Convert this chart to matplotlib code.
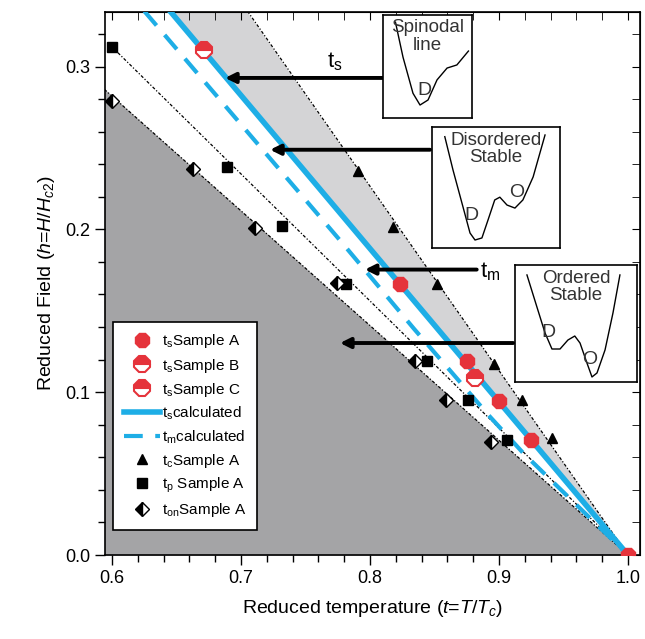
import numpy as np
import matplotlib
matplotlib.use('Agg')
import matplotlib.pyplot as plt

plt.rcParams['font.family'] = ['Liberation Sans', 'DejaVu Sans']
plt.rcParams['mathtext.fontset'] = 'custom'
plt.rcParams['mathtext.rm'] = 'Liberation Sans'
plt.rcParams['mathtext.it'] = 'Liberation Sans:italic'

# measured points (reduced temperature t, reduced field h)
ts_A_t = [0.823, 0.875, 0.900, 0.925, 1.0]
ts_A_h = [0.1667, 0.119, 0.0945, 0.0706, 0.0]
ts_B_t = [0.881]
ts_B_h = [0.109]
ts_C_t = [0.671]
ts_C_h = [0.310]
tc_t = [0.791, 0.818, 0.852, 0.896, 0.918, 0.941, 1.0]
tc_h = [0.236, 0.2014, 0.1667, 0.1176, 0.0951, 0.0716, 0.0]
tp_t = [0.600, 0.689, 0.732, 0.781, 0.844, 0.876, 0.906]
tp_h = [0.312, 0.238, 0.202, 0.1667, 0.119, 0.095, 0.0706]
ton_t = [0.600, 0.663, 0.711, 0.774, 0.835, 0.859, 0.894]
ton_h = [0.279, 0.237, 0.201, 0.167, 0.119, 0.0951, 0.0695]

# calculated curves
ts_calc_t = [0.645, 1.0]
ts_calc_h = [0.334, 0.0]
tm_calc_t = [0.625, 0.715, 0.777, 0.834, 0.893, 0.919, 1.0]
tm_calc_h = [0.334, 0.2505, 0.193, 0.139, 0.0849, 0.0624, 0.0]

# guide lines (dotted)
tc_line_t = [0.705, 1.0]
tc_line_h = [0.334, 0.0]
tp_line_t = [0.600, 1.0]
tp_line_h = [0.312, 0.0]
ton_line_t = [0.594, 1.0]
ton_line_h = [0.286, 0.0]

# schematic free-energy curves for the insets (box coordinates)
spin_x = [0.14, 0.225, 0.337, 0.416, 0.506, 0.607, 0.72, 0.83, 0.96]
spin_y = [0.93, 0.59, 0.24, 0.126, 0.175, 0.37, 0.485, 0.515, 0.65]
dis_x = [0.10, 0.164, 0.242, 0.297, 0.336, 0.39, 0.4375, 0.49, 0.53, 0.586, 0.648, 0.71, 0.79, 0.883]
dis_y = [0.92, 0.645, 0.34, 0.124, 0.066, 0.083, 0.231, 0.397, 0.42, 0.355, 0.33, 0.397, 0.587, 0.934]
ord_x = [0.098, 0.18, 0.246, 0.303, 0.369, 0.434, 0.49, 0.533, 0.59, 0.631, 0.672, 0.738, 0.803, 0.86]
ord_y = [0.915, 0.64, 0.42, 0.282, 0.282, 0.359, 0.393, 0.333, 0.162, 0.043, 0.077, 0.274, 0.59, 0.915]

red = '#e5333b'
blue = '#1eaee6'
W, H = 645, 639

fig = plt.figure(figsize=(6.45, 6.39), dpi=100)
ax = fig.add_axes([105 / W, 1 - 555 / H, (640 - 105) / W, (555 - 12) / H])
ax.set_xlim(0.5945, 1.0093)
ax.set_ylim(0.0, 0.3335)

tt = np.linspace(0.59, 1.0, 50)
ax.fill_between(tt, 0, 0.705 * (1 - tt), color='#a4a4a6', lw=0, zorder=0)
ax.fill_between(tt, np.clip(0.94 * (1 - tt), 0, None), 1.13 * (1 - tt), color='#d4d4d6', lw=0, zorder=0)

dot = (0, (2.5, 1.5, 1, 1.5))
ax.plot(tc_line_t, tc_line_h, color='k', lw=0.9, ls=dot, zorder=2)
ax.plot(tp_line_t, tp_line_h, color='k', lw=0.9, ls=dot, zorder=2)
ax.plot(ton_line_t, ton_line_h, color='k', lw=0.9, ls=dot, zorder=2)

ax.plot(ts_calc_t, ts_calc_h, color=blue, lw=4, zorder=3, label=r'$\mathregular{t_s}$calculated')
ax.plot(tm_calc_t, tm_calc_h, color=blue, lw=3, ls=(0, (4.5, 3)), zorder=3, label=r'$\mathregular{t_m}$calculated')

ax.plot(ts_A_t, ts_A_h, '8', color=red, ms=11, ls='none', zorder=5, label=r'$\mathregular{t_s}$Sample A')
ax.plot(ts_B_t, ts_B_h, '8', color=red, ms=11, ls='none', fillstyle='top', markerfacecoloralt='white',
        mec=red, mew=1.5, zorder=5, label=r'$\mathregular{t_s}$Sample B')
ax.plot(ts_C_t, ts_C_h, '8', color=red, ms=11, ls='none', fillstyle='top', markerfacecoloralt='white',
        mec=red, mew=1.5, zorder=5, label=r'$\mathregular{t_s}$Sample C')
ax.plot(tc_t, tc_h, '^', color='k', ms=7, ls='none', zorder=4, label=r'$\mathregular{t_c}$Sample A')
ax.plot(tp_t, tp_h, 's', color='k', ms=6.5, ls='none', zorder=4, label=r'$\mathregular{t_p}$ Sample A')
ax.plot(ton_t, ton_h, 'D', color='k', ms=7, ls='none', fillstyle='left', markerfacecoloralt='white',
        mec='k', mew=1, zorder=4, label=r'$\mathregular{t_{on}}$Sample A')

# arrows
arrows = [(0.810, 0.6876, 0.293), (0.8465, 0.7225, 0.2489), (0.8827, 0.796, 0.1753), (0.911, 0.7767, 0.1302)]
for x0, x1, y in arrows:
    ax.annotate('', xy=(x1, y), xytext=(x0, y),
                arrowprops=dict(arrowstyle='-|>,head_length=0.6,head_width=0.3', color='k', lw=2.8,
                                shrinkA=0, shrinkB=0), zorder=6)
ax.text(0.767, 0.296, r'$\mathregular{t_s}$', fontsize=16, ha='left', va='bottom')
ax.text(0.885, 0.167, r'$\mathregular{t_m}$', fontsize=16, ha='left', va='bottom')

ax.xaxis.set_major_locator(plt.MultipleLocator(0.1))
ax.xaxis.set_minor_locator(plt.MultipleLocator(0.02))
ax.yaxis.set_major_locator(plt.MultipleLocator(0.1))
ax.yaxis.set_minor_locator(plt.MultipleLocator(0.02))
ax.xaxis.set_major_formatter(plt.FormatStrFormatter('%.1f'))
ax.yaxis.set_major_formatter(plt.FormatStrFormatter('%.1f'))
ax.tick_params(which='both', direction='out', labelsize=13, width=1)
ax.tick_params(which='major', length=7)
ax.tick_params(which='minor', length=5)
for sp in ax.spines.values():
    sp.set_linewidth(1.2)

# inward ticks on top and right
axt = ax.secondary_xaxis('top')
axt.xaxis.set_major_locator(plt.MultipleLocator(0.1))
axt.xaxis.set_minor_locator(plt.MultipleLocator(0.02))
axt.tick_params(which='both', direction='in', length=6, labeltop=False)
axr = ax.secondary_yaxis('right')
axr.yaxis.set_major_locator(plt.MultipleLocator(0.1))
axr.yaxis.set_minor_locator(plt.MultipleLocator(0.02))
axr.tick_params(which='both', direction='in', length=6, labelright=False)

ax.set_xlabel(r'Reduced temperature ($\mathit{t}$=$\mathit{T}$/$\mathit{T_c}$)', fontsize=14, labelpad=8)
ax.set_ylabel(r'Reduced Field ($\mathit{h}$=$\mathit{H}$/$\mathit{H_{c2}}$)', fontsize=14, labelpad=6)

h, l = ax.get_legend_handles_labels()
order = [2, 3, 4, 0, 1, 5, 6, 7]
leg = ax.legend([h[i] for i in order], [l[i] for i in order], loc='lower left',
                bbox_to_anchor=((113 - 105) / 535, (555 - 530) / 543), fontsize=11, frameon=True,
                fancybox=False, edgecolor='k', framealpha=1, handlelength=2.4, handletextpad=0.1,
                labelspacing=0.4, borderpad=0.7, borderaxespad=0)
leg.get_frame().set_linewidth(1.2)


def inset(px0, py0, px1, py1, cx, cy, title, letters):
    a = fig.add_axes([px0 / W, 1 - py1 / H, (px1 - px0) / W, (py1 - py0) / H])
    a.set_xlim(0, 1)
    a.set_ylim(0, 1)
    a.set_xticks([])
    a.set_yticks([])
    for sp in a.spines.values():
        sp.set_linewidth(1.2)
    a.plot(cx, cy, color='k', lw=1)
    a.text(0.5, 0.96, title, ha='center', va='top', fontsize=13.5, linespacing=1.05, color='#333333')
    for x, y, s in letters:
        a.text(x, y, s, ha='center', va='center', fontsize=14, color='#333333')


inset(383, 15, 472, 118, spin_x, spin_y, 'Spinodal\nline', [(0.47, 0.27, 'D')])
inset(432, 127, 560, 248, dis_x, dis_y, 'Disordered\nStable', [(0.31, 0.27, 'D'), (0.66, 0.46, 'O')])
inset(515, 265, 637, 382, ord_x, ord_y, 'Ordered\nStable', [(0.27, 0.42, 'D'), (0.61, 0.19, 'O')])

fig.savefig('out.png', dpi=100)
